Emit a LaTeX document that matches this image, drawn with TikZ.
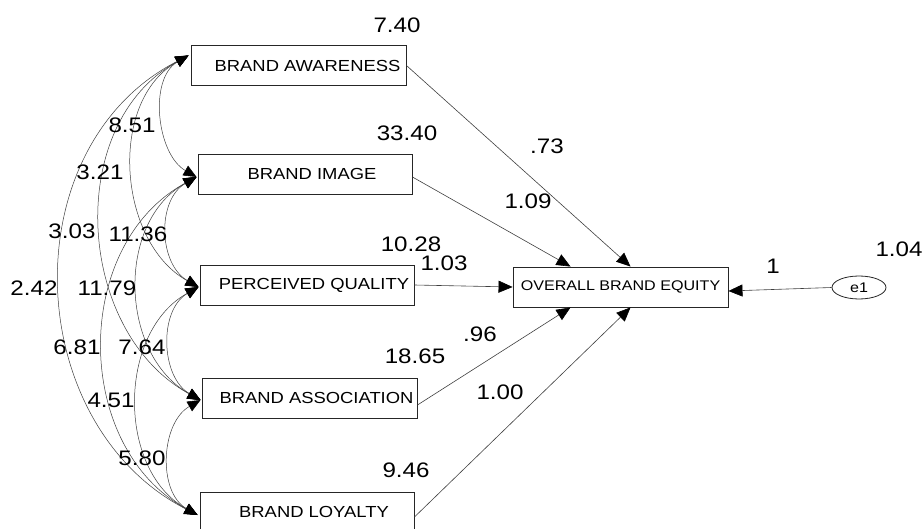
\documentclass[tikz,border=0pt]{standalone}
\usepackage{fontspec}
\newfontfamily\numfont[FakeStretch=1.15]{Liberation Sans}
\usetikzlibrary{arrows.meta,shapes.geometric}
\begin{document}
\begin{tikzpicture}[x=1pt,y=-1pt,
  varbox/.style={draw=black!85, line width=0.9pt, minimum width=215pt, minimum height=40pt, inner sep=0pt, font=\numfont\fontsize{16}{16}\selectfont},
  estlabel/.style={inner sep=0pt, font=\numfont\fontsize{21}{21}\selectfont},
  regpath/.style={draw=black!75, line width=0.6pt, -{Triangle[length=14pt,width=12pt,color=black]}},
  cov/.style={draw=black!75, line width=0.5pt, {Triangle[length=13pt,width=11pt,color=black]}-{Triangle[length=13pt,width=11pt,color=black]}}]
\useasboundingbox (0,0) rectangle (923,529);
\fill[white] (0,0) rectangle (923,529);
\clip (0,0) rectangle (923,529);

% boxes
\node[varbox] (BA) at (298.5,65.5) {\hspace*{18pt}BRAND AWARENESS};
\node[varbox, minimum width=214pt] (BI) at (305,174) {\hspace*{14pt}BRAND IMAGE};
\node[varbox, minimum width=214pt] (PQ) at (307,285) {\hspace*{14pt}PERCEIVED QUALITY};
\node[varbox] (BS) at (309.5,398) {\hspace*{14pt}BRAND ASSOCIATION};
\node[varbox, minimum width=214pt] (BL) at (307,512) {\hspace*{14pt}BRAND LOYALTY};
\node[varbox, font=\numfont\fontsize{14}{14}\selectfont] (OBE) at (620.5,287) {OVERALL BRAND EQUITY};
\node[draw=black!85, line width=0.8pt, ellipse, minimum width=54pt, minimum height=23pt, inner sep=0pt, font=\numfont\fontsize{14}{14}\selectfont] (E1) at (859,287.5) {e1};

% covariance endpoints
\coordinate (cBA) at ([xshift=-2pt,yshift=10pt]BA.west);
\coordinate (cBI) at ([xshift=-1pt,yshift=-3pt]BI.west);
\coordinate (cPQ) at ([xshift=-1pt,yshift=-2pt]PQ.west);
\coordinate (cBS) at ([xshift=-1pt,yshift=-2pt]BS.west);
\coordinate (cBL) at ([xshift=-2pt,yshift=-3pt]BL.west);

% covariances (span 1)
\draw[cov] (cBA) .. controls +(-40,23) and +(-40,-23) .. (cBI);
\draw[cov] (cBI) .. controls +(-40,23) and +(-40,-23) .. (cPQ);
\draw[cov] (cPQ) .. controls +(-40,23) and +(-40,-23) .. (cBS);
\draw[cov] (cBS) .. controls +(-40,23) and +(-40,-23) .. (cBL);
% span 2
\draw[cov] (cBA) .. controls +(-81,45) and +(-81,-45) .. (cPQ);
\draw[cov] (cBI) .. controls +(-81,45) and +(-81,-45) .. (cBS);
\draw[cov] (cPQ) .. controls +(-81,45) and +(-81,-45) .. (cBL);
% span 3
\draw[cov] (cBA) .. controls +(-125,68) and +(-125,-68) .. (cBS);
\draw[cov] (cBI) .. controls +(-125,68) and +(-125,-68) .. (cBL);
% span 4
\draw[cov] (cBA) .. controls +(-177,91) and +(-177,-91) .. (cBL);

% regression paths
\draw[regpath] (BA.east) -- ([xshift=10pt]OBE.north);
\draw[regpath] ([yshift=-3pt]BI.east) -- ([xshift=-50pt]OBE.north);
\draw[regpath] (PQ.east) -- (OBE.west);
\draw[regpath] ([yshift=-7pt]BS.east) -- ([xshift=-50pt]OBE.south);
\draw[regpath] ([yshift=-5pt]BL.east) -- ([xshift=10pt]OBE.south);
\draw[regpath] (E1.west) -- ([yshift=-4pt]OBE.east);

% estimates
\node[estlabel] (l740) at (397,25) {7.40};
\node[estlabel] (l3340) at (407,133) {33.40};
\node[estlabel] (l1028) at (411,244) {10.28};
\node[estlabel] (l103) at (444,263) {1.03};
\node[estlabel] (l73) at (547,146) {.73};
\node[estlabel] (l109) at (528,201) {1.09};
\node[estlabel] (l96) at (480,334) {.96};
\node[estlabel] (l1865) at (415,356) {18.65};
\node[estlabel] (l100) at (500,392) {1.00};
\node[estlabel] (l946) at (406,470) {9.46};
\node[estlabel] (l1) at (773,266) {1};
\node[estlabel] (l104) at (899,249) {1.04};
\node[estlabel] (l851) at (132,125) {8.51};
\node[estlabel] (l321) at (100,172) {3.21};
\node[estlabel] (l303) at (72,231) {3.03};
\node[estlabel] (l1136) at (138,234) {11.36};
\node[estlabel] (l242) at (34,288) {2.42};
\node[estlabel] (l1179) at (107,288) {11.79};
\node[estlabel] (l681) at (77,347) {6.81};
\node[estlabel] (l764) at (142,347) {7.64};
\node[estlabel] (l451) at (111,400) {4.51};
\node[estlabel] (l580) at (142,458) {5.80};
\end{tikzpicture}
\end{document}
